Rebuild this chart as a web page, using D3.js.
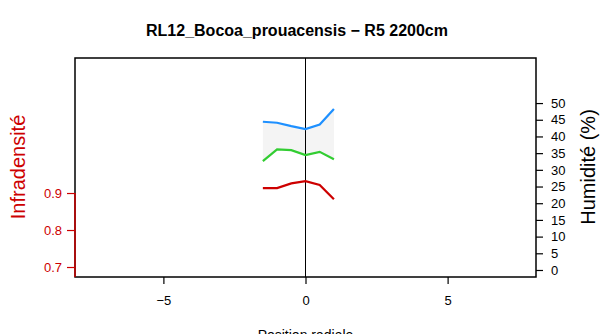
<!DOCTYPE html>
<html><head><meta charset="utf-8">
<script src="https://cdn.jsdelivr.net/npm/d3@7"></script>
<style>body{margin:0;background:#fff}svg{display:block;font-family:"Liberation Sans",Arial,sans-serif}</style>
</head><body>
<svg id="c" width="601" height="334"></svg>
<script>
const positions = [-1.5, -1, -0.5, 0, 0.5, 1];
const infradensite = [0.913, 0.9135, 0.926, 0.932, 0.922, 0.883];
const humiditeHaut = [44.4, 44.1, 43.1, 42.2, 43.6, 48.2];
const humiditeBas = [32.6, 36.1, 35.9, 34.4, 35.4, 33.2];
const xTicks = [-5, 0, 5];
const leftTicks = [0.7, 0.8, 0.9];
const rightTicks = [0, 5, 10, 15, 20, 25, 30, 35, 40, 45, 50];
const title = "RL12_Bocoa_prouacensis \u2212 R5 2200cm";

const svg = d3.select("#c");
const L = 75, R = 536, T = 58, B = 277;
const x = d3.scaleLinear().domain([-8.11, 8.11]).range([L, R]);
const yL = d3.scaleLinear().domain([0.673, 1.265]).range([B, T]);
const yR = d3.scaleLinear().domain([-2.1, 63.5]).range([B, T]);
const FF = "Liberation Sans, Arial, sans-serif";

// band
const band = d3.area().x((d,i)=>x(positions[i])).y0((d,i)=>yR(humiditeBas[i])).y1((d,i)=>yR(humiditeHaut[i]));
svg.append("path").datum(positions).attr("d", band).attr("fill", "#f4f4f4");

// vertical line at 0
svg.append("line").attr("x1", x(0)).attr("x2", x(0)).attr("y1", T).attr("y2", B).attr("stroke", "#000").attr("stroke-width", 1);

const lineR = arr => d3.line().x((d,i)=>x(positions[i])).y((d,i)=>yR(arr[i]));
svg.append("path").datum(humiditeHaut).attr("d", lineR(humiditeHaut)).attr("fill","none").attr("stroke","#1e90ff").attr("stroke-width",2.2);
svg.append("path").datum(humiditeBas).attr("d", lineR(humiditeBas)).attr("fill","none").attr("stroke","#32cd32").attr("stroke-width",2.2);
svg.append("path").datum(infradensite).attr("d", d3.line().x((d,i)=>x(positions[i])).y(d=>yL(d))).attr("fill","none").attr("stroke","#cd0000").attr("stroke-width",2.2);

// box
svg.append("rect").attr("x", L).attr("y", T).attr("width", R-L).attr("height", B-T).attr("fill","none").attr("stroke","#000").attr("stroke-width",1.5);

// x axis
const xa = svg.append("g").attr("transform", `translate(0,${B})`)
  .call(d3.axisBottom(x).tickValues(xTicks).tickSize(7).tickPadding(12).tickFormat(d => d < 0 ? "\u2212" + Math.abs(d) : d));
xa.select(".domain").remove();
xa.selectAll("line").attr("stroke-width",1.2);
xa.selectAll("text").attr("font-size", 13).attr("font-family", FF).attr("fill","#000");

// left axis
const la = svg.append("g").attr("transform", `translate(${L},0)`)
  .call(d3.axisLeft(yL).tickValues(leftTicks).tickSize(8).tickPadding(5).tickFormat(d3.format(".1f")));
la.select(".domain").attr("d", `M0,${yL(0.9)}V${B}`).attr("stroke","#cd0000").attr("stroke-width",1.5);
la.selectAll("line").attr("stroke","#cd0000").attr("stroke-width",1.2);
la.selectAll("text").attr("font-size", 13).attr("font-family", FF).attr("fill","#cd0000");

// right axis
const ra = svg.append("g").attr("transform", `translate(${R},0)`)
  .call(d3.axisRight(yR).tickValues(rightTicks).tickSize(7).tickPadding(8));
ra.select(".domain").remove();
ra.selectAll("line").attr("stroke-width",1.2);
ra.selectAll("text").attr("font-size", 13).attr("font-family", FF).attr("fill","#000");

// title & labels
svg.append("text").attr("x", 297).attr("y", 36).attr("text-anchor","middle").attr("font-weight","bold").attr("font-size",16).text(title);
svg.append("text").attr("transform", `translate(25,167) rotate(-90)`).attr("text-anchor","middle").attr("font-size",20).attr("fill","#cd0000").text("Infradensité");
svg.append("text").attr("transform", `translate(595,167) rotate(-90)`).attr("text-anchor","middle").attr("font-size",20).attr("fill","#000").text("Humidité (%)");
svg.append("text").attr("x", x(0)).attr("y", 340).attr("text-anchor","middle").attr("font-size",14).text("Position radiale");
</script>
</body></html>
